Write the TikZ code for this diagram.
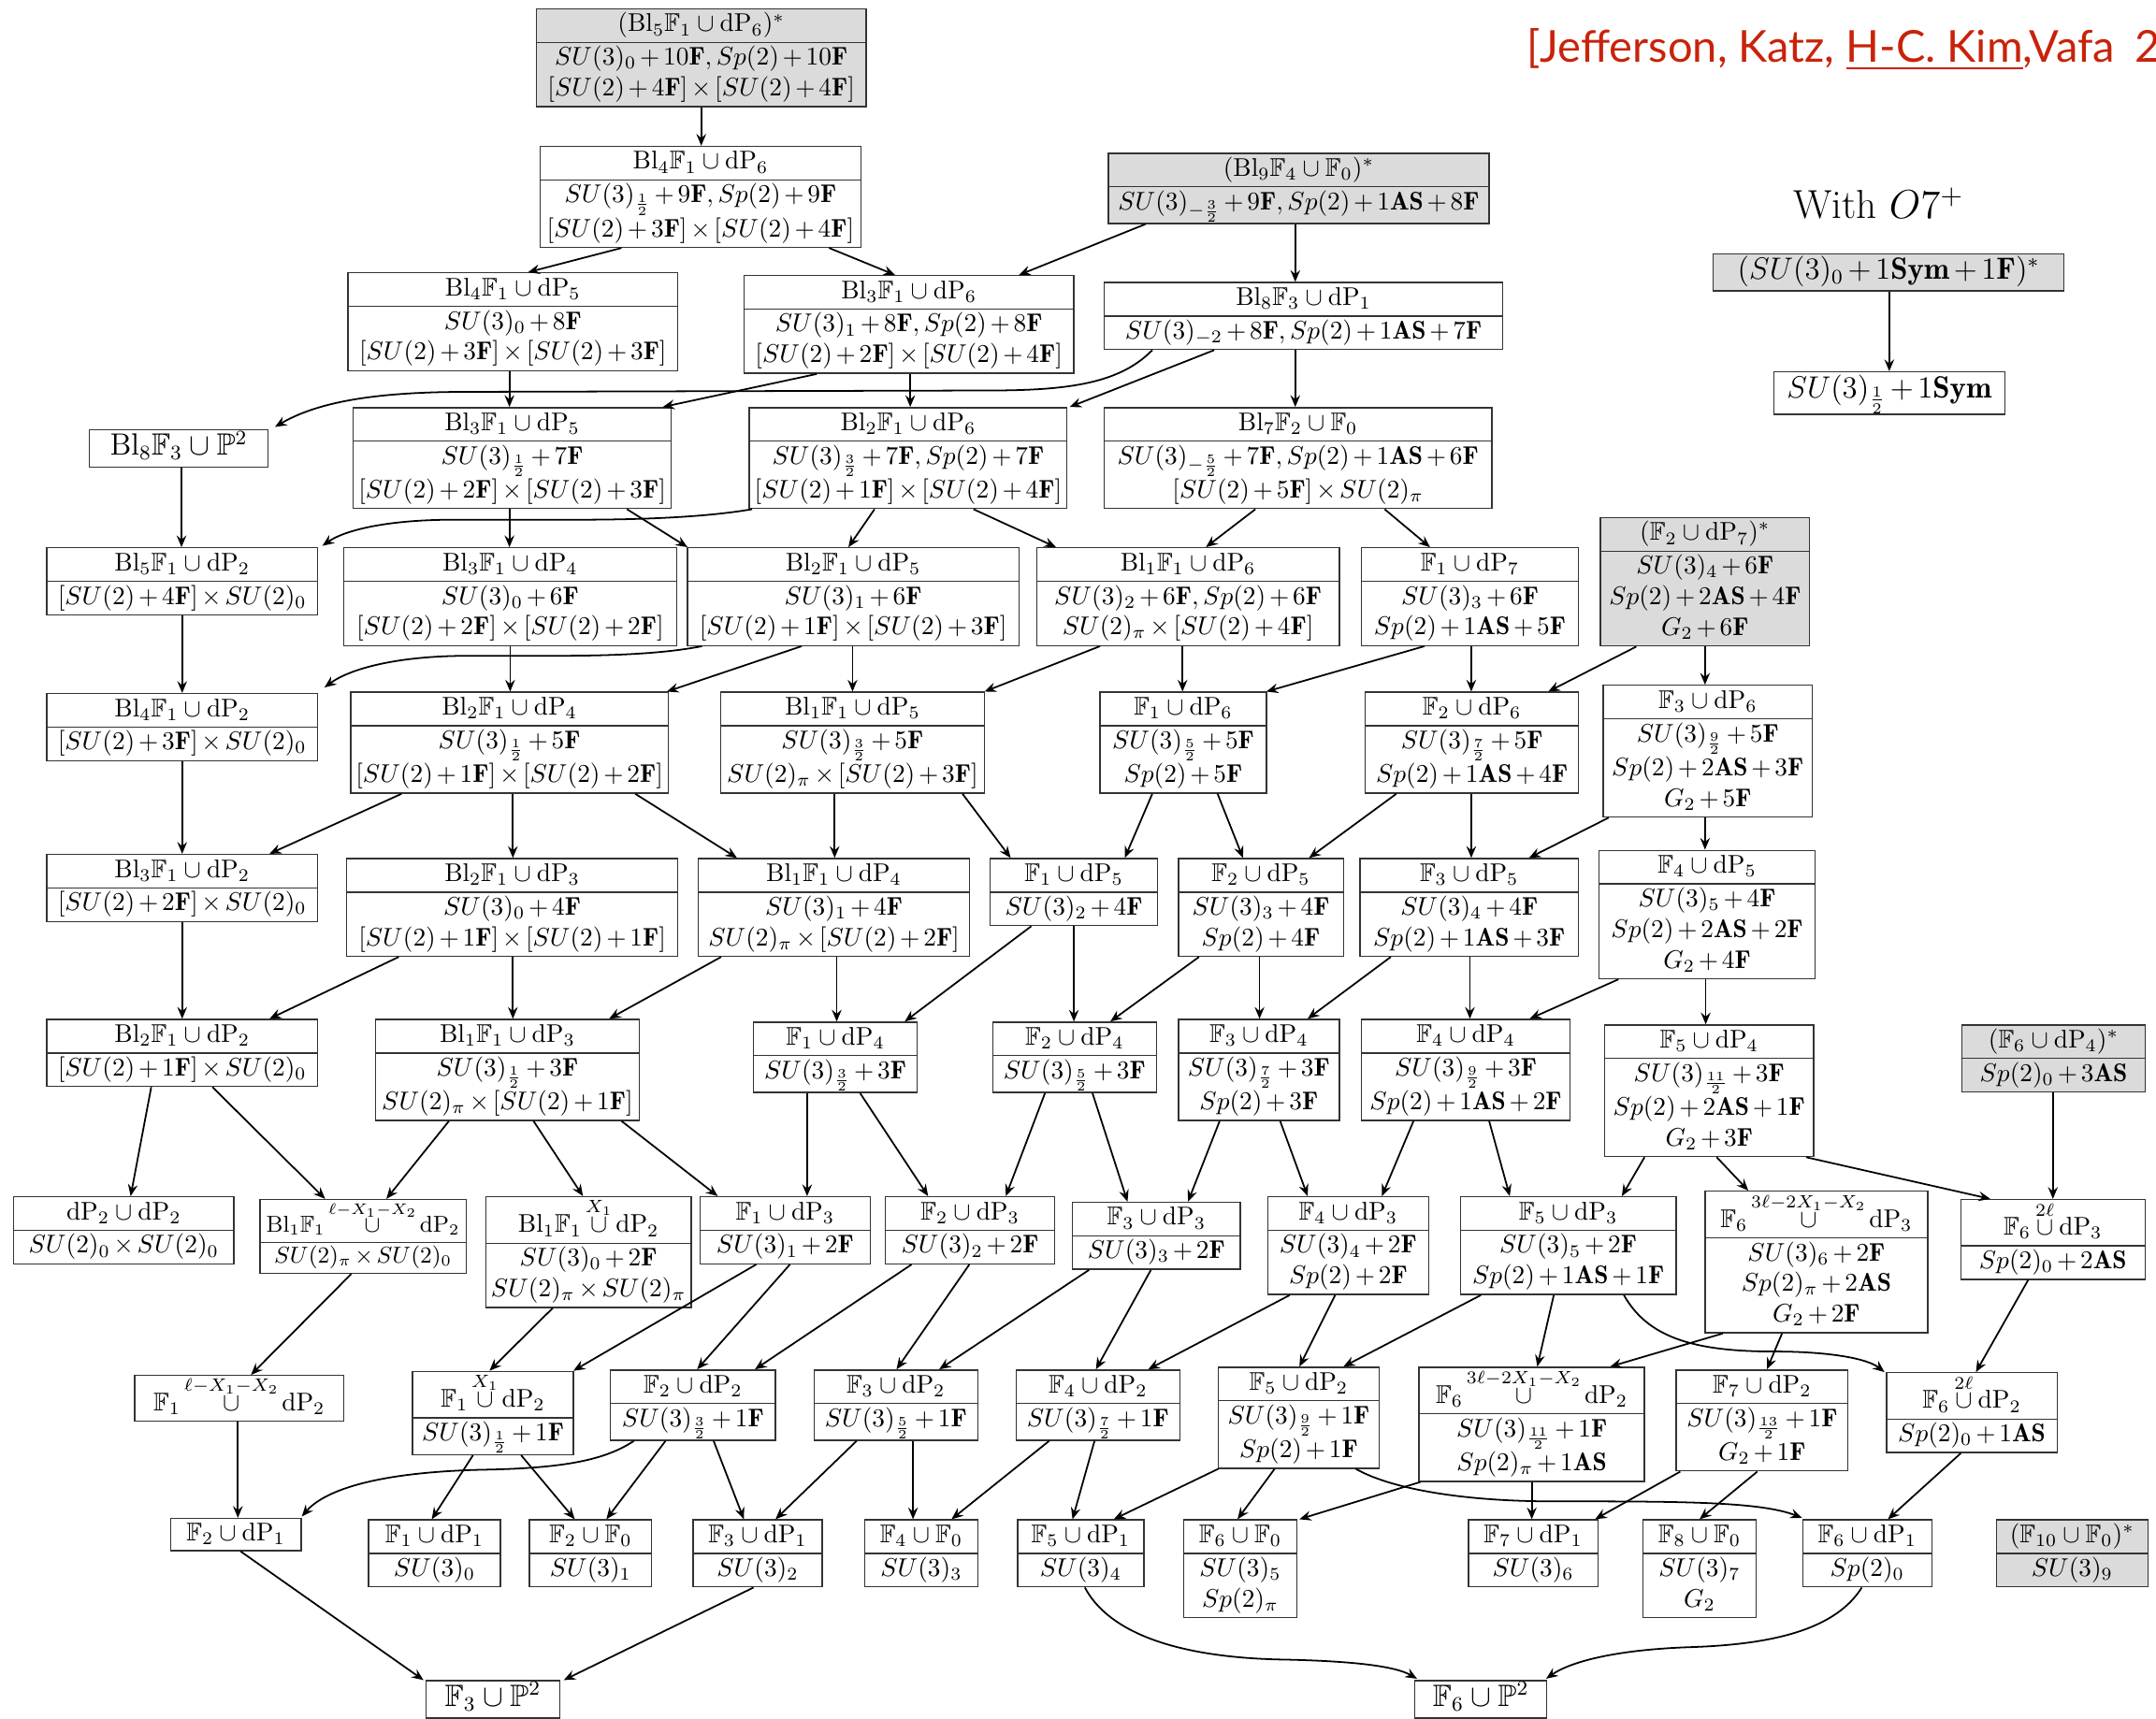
\RequirePackage{fix-cm}
\documentclass[tikz,border=0pt]{standalone}
\usepackage{amsmath,amssymb}
\usepackage{fontspec}
\newfontfamily\citefont{Lato}
\usetikzlibrary{shapes.multipart,arrows.meta,calc}
\definecolor{citered}{RGB}{200,35,10}
\newcommand{\ml}[1]{\begin{tabular}{@{}c@{}}#1\end{tabular}}
\newcommand{\Fb}{\mathbb{F}}
\newcommand{\bF}{\mathbf{F}}
\newcommand{\AS}{\mathbf{AS}}
\newcommand{\dP}{\mathrm{dP}}
\newcommand{\Bl}{\mathrm{Bl}}
\newcommand{\Pb}{\mathbb{P}}
\newcommand{\cupp}{\mathbin{\mkern1.5mu\cup\mkern1.5mu}}
\newcommand{\edg}[4]{\draw[arr] ($(#1.south)+(#2,0)$) -- ($(#3.north)+(#4,0)$);}
\AtBeginDocument{\medmuskip=2.5mu plus 1mu minus 2.5mu}
\tikzset{
 bx/.style={draw=black!80, line width=0.5pt, rectangle split, rectangle split parts=2, inner xsep=2pt, inner ysep=0.3pt, anchor=north, fill=white, font=\normalsize},
 gbx/.style={bx, fill=black!14},
 sbx/.style={draw=black!80, line width=0.5pt, inner xsep=2pt, inner ysep=0.3pt, anchor=north, fill=white},
 bw/.style={minimum width=#1*0.5376pt},
 arr/.style={-{Stealth[length=4.6pt,width=3.8pt,inset=1.6pt]}, line width=0.65pt},
}
\begin{document}
\begin{tikzpicture}[x=0.5376pt, y=-0.5376pt]
\useasboundingbox (0,0) rectangle (1568,1250);
\clip (0,0) rectangle (1568,1250);

\node[anchor=base west, inner sep=0, text=citered, font=\citefont\fontsize{17.2}{20}\selectfont] (cite) at (1110,45) {[Jefferson, Katz, \underline{H-C. Kim},Vafa\hspace{0.45em}2018]};
\node[anchor=base west, inner sep=0, font=\fontsize{15.8}{19}\selectfont] (o7) at (1304,159) {With $O7^+$};

% row 0-1
\node[gbx,bw=240] (A) at (510,6) {\ml{$(\Bl_5\Fb_1\cupp\dP_6)^*$}\nodepart{two}\ml{$SU(3)_0+10\bF, Sp(2)+10\bF$\\$[SU(2)+4\bF]\times[SU(2)+4\bF]$}};
\node[bx,bw=233] (B) at (509.5,106) {\ml{$\Bl_4\Fb_1\cupp\dP_6$}\nodepart{two}\ml{$SU(3)_{\frac12}+9\bF, Sp(2)+9\bF$\\$[SU(2)+3\bF]\times[SU(2)+4\bF]$}};
\node[gbx,bw=277] (C) at (944.5,111) {\ml{$(\Bl_9\Fb_4\cupp\Fb_0)^*$}\nodepart{two}\ml{$SU(3)_{-\frac32}+9\bF, Sp(2)+1\AS+8\bF$}};
\node[sbx,bw=255,fill=black!14,font=\large] (O1) at (1373.5,184) {\ml{$(SU(3)_0+1\mathbf{Sym}+1\bF)^*$}};
\node[sbx,bw=168,font=\large] (O2) at (1374,270) {\ml{$SU(3)_{\frac12}+1\mathbf{Sym}$}};

% row 2
\node[bx,bw=240] (D) at (373,198) {\ml{$\Bl_4\Fb_1\cupp\dP_5$}\nodepart{two}\ml{$SU(3)_0+8\bF$\\$[SU(2)+3\bF]\times[SU(2)+3\bF]$}};
\node[bx,bw=240] (E) at (661,200) {\ml{$\Bl_3\Fb_1\cupp\dP_6$}\nodepart{two}\ml{$SU(3)_1+8\bF, Sp(2)+8\bF$\\$[SU(2)+2\bF]\times[SU(2)+4\bF]$}};
\node[bx,bw=290] (F) at (948,205) {\ml{$\Bl_8\Fb_3\cupp\dP_1$}\nodepart{two}\ml{$SU(3)_{-2}+8\bF, Sp(2)+1\AS+7\bF$}};

% row 3
\node[sbx,bw=130,font=\large] (G) at (130,312) {\ml{$\Bl_8\Fb_3\cupp\Pb^2$}};
\node[bx,bw=231] (H) at (372.5,296) {\ml{$\Bl_3\Fb_1\cupp\dP_5$}\nodepart{two}\ml{$SU(3)_{\frac12}+7\bF$\\$[SU(2)+2\bF]\times[SU(2)+3\bF]$}};
\node[bx,bw=231] (I) at (660.5,296) {\ml{$\Bl_2\Fb_1\cupp\dP_6$}\nodepart{two}\ml{$SU(3)_{\frac32}+7\bF, Sp(2)+7\bF$\\$[SU(2)+1\bF]\times[SU(2)+4\bF]$}};
\node[bx,bw=282] (J) at (944,296) {\ml{$\Bl_7\Fb_2\cupp\Fb_0$}\nodepart{two}\ml{$SU(3)_{-\frac52}+7\bF, Sp(2)+1\AS+6\bF$\\$[SU(2)+5\bF]\times SU(2)_\pi$}};

% row 4
\node[bx,bw=197] (K) at (132.5,398) {\ml{$\Bl_5\Fb_1\cupp\dP_2$}\nodepart{two}\ml{$[SU(2)+4\bF]\times SU(2)_0$}};
\node[bx,bw=242] (L) at (371,398) {\ml{$\Bl_3\Fb_1\cupp\dP_4$}\nodepart{two}\ml{$SU(3)_0+6\bF$\\$[SU(2)+2\bF]\times[SU(2)+2\bF]$}};
\node[bx,bw=241] (M) at (620.5,398) {\ml{$\Bl_2\Fb_1\cupp\dP_5$}\nodepart{two}\ml{$SU(3)_1+6\bF$\\$[SU(2)+1\bF]\times[SU(2)+3\bF]$}};
\node[bx,bw=220] (N) at (864,398) {\ml{$\Bl_1\Fb_1\cupp\dP_6$}\nodepart{two}\ml{$SU(3)_2+6\bF, Sp(2)+6\bF$\\$SU(2)_\pi\times[SU(2)+4\bF]$}};
\node[bx,bw=158] (O) at (1069,398) {\ml{$\Fb_1\cupp\dP_7$}\nodepart{two}\ml{$SU(3)_3+6\bF$\\$Sp(2)+1\AS+5\bF$}};
\node[gbx,bw=152] (P) at (1240,376) {\ml{$(\Fb_2\cupp\dP_7)^*$}\nodepart{two}\ml{$SU(3)_4+6\bF$\\$Sp(2)+2\AS+4\bF$\\$G_2+6\bF$}};

% row 5
\node[bx,bw=197] (Q) at (132.5,504) {\ml{$\Bl_4\Fb_1\cupp\dP_2$}\nodepart{two}\ml{$[SU(2)+3\bF]\times SU(2)_0$}};
\node[bx,bw=231] (R) at (370.5,503) {\ml{$\Bl_2\Fb_1\cupp\dP_4$}\nodepart{two}\ml{$SU(3)_{\frac12}+5\bF$\\$[SU(2)+1\bF]\times[SU(2)+2\bF]$}};
\node[bx,bw=192] (S) at (620,503) {\ml{$\Bl_1\Fb_1\cupp\dP_5$}\nodepart{two}\ml{$SU(3)_{\frac32}+5\bF$\\$SU(2)_\pi\times[SU(2)+3\bF]$}};
\node[bx,bw=121] (T) at (860.5,503) {\ml{$\Fb_1\cupp\dP_6$}\nodepart{two}\ml{$SU(3)_{\frac52}+5\bF$\\$Sp(2)+5\bF$}};
\node[bx,bw=155] (U) at (1070.5,503) {\ml{$\Fb_2\cupp\dP_6$}\nodepart{two}\ml{$SU(3)_{\frac72}+5\bF$\\$Sp(2)+1\AS+4\bF$}};
\node[bx,bw=152] (V) at (1242,498) {\ml{$\Fb_3\cupp\dP_6$}\nodepart{two}\ml{$SU(3)_{\frac92}+5\bF$\\$Sp(2)+2\AS+3\bF$\\$G_2+5\bF$}};

% row 6
\node[bx,bw=197] (W) at (132.5,621) {\ml{$\Bl_3\Fb_1\cupp\dP_2$}\nodepart{two}\ml{$[SU(2)+2\bF]\times SU(2)_0$}};
\node[bx,bw=241] (X) at (372.5,624) {\ml{$\Bl_2\Fb_1\cupp\dP_3$}\nodepart{two}\ml{$SU(3)_0+4\bF$\\$[SU(2)+1\bF]\times[SU(2)+1\bF]$}};
\node[bx,bw=197] (Y) at (606.5,624) {\ml{$\Bl_1\Fb_1\cupp\dP_4$}\nodepart{two}\ml{$SU(3)_1+4\bF$\\$SU(2)_\pi\times[SU(2)+2\bF]$}};
\node[bx,bw=122] (Z) at (781,624) {\ml{$\Fb_1\cupp\dP_5$}\nodepart{two}\ml{$SU(3)_2+4\bF$}};
\node[bx,bw=120] (AA) at (917,624) {\ml{$\Fb_2\cupp\dP_5$}\nodepart{two}\ml{$SU(3)_3+4\bF$\\$Sp(2)+4\bF$}};
\node[bx,bw=159] (AB) at (1068.5,624) {\ml{$\Fb_3\cupp\dP_5$}\nodepart{two}\ml{$SU(3)_4+4\bF$\\$Sp(2)+1\AS+3\bF$}};
\node[bx,bw=157] (AC) at (1241.5,618) {\ml{$\Fb_4\cupp\dP_5$}\nodepart{two}\ml{$SU(3)_5+4\bF$\\$Sp(2)+2\AS+2\bF$\\$G_2+4\bF$}};

% row 7
\node[bx,bw=197] (AD) at (132.5,741) {\ml{$\Bl_2\Fb_1\cupp\dP_2$}\nodepart{two}\ml{$[SU(2)+1\bF]\times SU(2)_0$}};
\node[bx,bw=192] (AE) at (369,741) {\ml{$\Bl_1\Fb_1\cupp\dP_3$}\nodepart{two}\ml{$SU(3)_{\frac12}+3\bF$\\$SU(2)_\pi\times[SU(2)+1\bF]$}};
\node[bx,bw=119] (AF) at (607.5,743) {\ml{$\Fb_1\cupp\dP_4$}\nodepart{two}\ml{$SU(3)_{\frac32}+3\bF$}};
\node[bx,bw=119] (AG) at (781.5,743) {\ml{$\Fb_2\cupp\dP_4$}\nodepart{two}\ml{$SU(3)_{\frac52}+3\bF$}};
\node[bx,bw=117] (AH) at (915.5,741) {\ml{$\Fb_3\cupp\dP_4$}\nodepart{two}\ml{$SU(3)_{\frac72}+3\bF$\\$Sp(2)+3\bF$}};
\node[bx,bw=152] (AI) at (1066,741) {\ml{$\Fb_4\cupp\dP_4$}\nodepart{two}\ml{$SU(3)_{\frac92}+3\bF$\\$Sp(2)+1\AS+2\bF$}};
\node[bx,bw=152] (AJ) at (1243,745) {\ml{$\Fb_5\cupp\dP_4$}\nodepart{two}\ml{$SU(3)_{\frac{11}2}+3\bF$\\$Sp(2)+2\AS+1\bF$\\$G_2+3\bF$}};
\node[gbx,bw=133] (AK) at (1493.5,745) {\ml{$(\Fb_6\cupp\dP_4)^*$}\nodepart{two}\ml{$Sp(2)_0+3\AS$}};

% row 8
\node[bx,bw=160] (AL) at (90,870) {\ml{$\dP_2\cupp\dP_2$}\nodepart{two}\ml{$SU(2)_0\times SU(2)_0$}};
\node[bx,bw=150,font=\small] (AM) at (264,872) {\ml{$\Bl_1\Fb_1\overset{\ell-X_1-X_2}{\cupp}\dP_2$}\nodepart{two}\ml{$SU(2)_\pi\times SU(2)_0$}};
\node[bx,bw=140] (AN) at (428,870) {\ml{$\Bl_1\Fb_1\overset{X_1}{\cupp}\dP_2$}\nodepart{two}\ml{$SU(3)_0+2\bF$\\$SU(2)_\pi\times SU(2)_\pi$}};
\node[bx,bw=124] (AO) at (571,870) {\ml{$\Fb_1\cupp\dP_3$}\nodepart{two}\ml{$SU(3)_1+2\bF$}};
\node[bx,bw=123] (AP) at (705.5,870) {\ml{$\Fb_2\cupp\dP_3$}\nodepart{two}\ml{$SU(3)_2+2\bF$}};
\node[bx,bw=122] (AQ) at (841,874) {\ml{$\Fb_3\cupp\dP_3$}\nodepart{two}\ml{$SU(3)_3+2\bF$}};
\node[bx,bw=117] (AR) at (980.5,870) {\ml{$\Fb_4\cupp\dP_3$}\nodepart{two}\ml{$SU(3)_4+2\bF$\\$Sp(2)+2\bF$}};
\node[bx,bw=157] (AS) at (1140.5,870) {\ml{$\Fb_5\cupp\dP_3$}\nodepart{two}\ml{$SU(3)_5+2\bF$\\$Sp(2)+1\AS+1\bF$}};
\node[bx,bw=162] (AT) at (1321,866) {\ml{$\Fb_6\overset{3\ell-2X_1-X_2}{\cupp}\dP_3$}\nodepart{two}\ml{$SU(3)_6+2\bF$\\$Sp(2)_\pi+2\AS$\\$G_2+2\bF$}};
\node[bx,bw=134] (AU) at (1493,872) {\ml{$\Fb_6\overset{2\ell}{\cupp}\dP_3$}\nodepart{two}\ml{$Sp(2)_0+2\AS$}};

% row 9
\node[sbx,bw=152] (AV) at (174,1000) {\ml{$\Fb_1\overset{\ell-X_1-X_2}{\cupp}\dP_2$}};
\node[bx,bw=117] (AW) at (358.5,997) {\ml{$\Fb_1\overset{X_1}{\cupp}\dP_2$}\nodepart{two}\ml{$SU(3)_{\frac12}+1\bF$}};
\node[bx,bw=120] (AX) at (504,996) {\ml{$\Fb_2\cupp\dP_2$}\nodepart{two}\ml{$SU(3)_{\frac32}+1\bF$}};
\node[bx,bw=119] (AY) at (651.5,996) {\ml{$\Fb_3\cupp\dP_2$}\nodepart{two}\ml{$SU(3)_{\frac52}+1\bF$}};
\node[bx,bw=119] (AZ) at (798.5,996) {\ml{$\Fb_4\cupp\dP_2$}\nodepart{two}\ml{$SU(3)_{\frac72}+1\bF$}};
\node[bx,bw=117] (BA) at (944.5,994) {\ml{$\Fb_5\cupp\dP_2$}\nodepart{two}\ml{$SU(3)_{\frac92}+1\bF$\\$Sp(2)+1\bF$}};
\node[bx,bw=164] (BB) at (1114,994) {\ml{$\Fb_6\overset{3\ell-2X_1-X_2}{\cupp}\dP_2$}\nodepart{two}\ml{$SU(3)_{\frac{11}2}+1\bF$\\$Sp(2)_\pi+1\AS$}};
\node[bx,bw=125] (BC) at (1281.5,996) {\ml{$\Fb_7\cupp\dP_2$}\nodepart{two}\ml{$SU(3)_{\frac{13}2}+1\bF$\\$G_2+1\bF$}};
\node[bx,bw=124] (BD) at (1434,998) {\ml{$\Fb_6\overset{2\ell}{\cupp}\dP_2$}\nodepart{two}\ml{$Sp(2)_0+1\AS$}};

% row 10
\node[sbx,bw=95] (BE) at (171.5,1104) {\ml{$\Fb_2\cupp\dP_1$}};
\node[bx,bw=96] (BF) at (316,1105) {\ml{$\Fb_1\cupp\dP_1$}\nodepart{two}\ml{$SU(3)_0$}};
\node[bx,bw=89] (BG) at (429.5,1105) {\ml{$\Fb_2\cupp\Fb_0$}\nodepart{two}\ml{$SU(3)_1$}};
\node[bx,bw=94] (BH) at (551,1105) {\ml{$\Fb_3\cupp\dP_1$}\nodepart{two}\ml{$SU(3)_2$}};
\node[bx,bw=82] (BI) at (670,1105) {\ml{$\Fb_4\cupp\Fb_0$}\nodepart{two}\ml{$SU(3)_3$}};
\node[bx,bw=92] (BJ) at (786,1105) {\ml{$\Fb_5\cupp\dP_1$}\nodepart{two}\ml{$SU(3)_4$}};
\node[bx,bw=82] (BK) at (902,1105) {\ml{$\Fb_6\cupp\Fb_0$}\nodepart{two}\ml{$SU(3)_5$\\$Sp(2)_\pi$}};
\node[bx,bw=94] (BL) at (1115,1105) {\ml{$\Fb_7\cupp\dP_1$}\nodepart{two}\ml{$SU(3)_6$}};
\node[bx,bw=82] (BM) at (1236,1105) {\ml{$\Fb_8\cupp\Fb_0$}\nodepart{two}\ml{$SU(3)_7$\\$G_2$}};
\node[bx,bw=94] (BN) at (1358,1105) {\ml{$\Fb_6\cupp\dP_1$}\nodepart{two}\ml{$Sp(2)_0$}};
\node[gbx,bw=110] (BO) at (1507,1105) {\ml{$(\Fb_{10}\cupp\Fb_0)^*$}\nodepart{two}\ml{$SU(3)_9$}};

% row 11
\node[sbx,bw=97,font=\large] (BP) at (358.5,1222) {\ml{$\Fb_3\cupp\Pb^2$}};
\node[sbx,bw=96,font=\large] (BQ) at (1077,1222) {\ml{$\Fb_6\cupp\Pb^2$}};

% straight connectors
\edg{A}{0}{B}{0.5}
\edg{B}{-57.5}{D}{11}
\edg{B}{93.5}{E}{-10}
\edg{C}{-111.5}{E}{80}
\edg{C}{-2.5}{F}{-6}
\edg{D}{-2.5}{H}{-2}
\edg{E}{-67}{H}{109.5}
\edg{E}{1}{I}{1.5}
\edg{F}{-65}{I}{117.5}
\edg{F}{-6}{J}{-2}
\edg{H}{-2}{L}{-0.5}
\edg{H}{83.5}{M}{-120.5}
\edg{I}{-24.5}{M}{-3.5}
\edg{I}{47.5}{N}{-96}
\edg{J}{-31}{N}{13}
\edg{J}{63}{O}{-29}
\edg{G}{2}{K}{-0.5}
\edg{K}{0}{Q}{0}
\edg{L}{0}{R}{0.5}
\edg{M}{-37.5}{R}{114.5}
\edg{M}{-0.5}{S}{0}
\edg{N}{-64}{S}{96}
\edg{N}{-4}{T}{-0.5}
\edg{O}{-33}{T}{60.5}
\edg{O}{1}{U}{-0.5}
\edg{P}{-50}{U}{55.5}
\edg{P}{0}{V}{-2}
\edg{Q}{0}{W}{0}
\edg{R}{-78.5}{W}{63.5}
\edg{R}{2.5}{X}{0.5}
\edg{R}{91.5}{Y}{-70.5}
\edg{S}{-13}{Y}{0.5}
\edg{S}{80}{Z}{-46}
\edg{T}{-22.5}{Z}{37}
\edg{T}{25}{AA}{-13}
\edg{U}{-55}{AA}{35}
\edg{U}{-0.5}{AB}{1.5}
\edg{V}{-72}{AB}{43.5}
\edg{V}{-2}{AC}{-1.5}
\edg{W}{0}{AD}{0}
\edg{X}{-82.5}{AD}{63.5}
\edg{X}{0.5}{AE}{4}
\edg{Y}{-82}{AE}{74}
\edg{Y}{2}{AF}{1}
\edg{Z}{-31}{AF}{50.5}
\edg{Z}{0}{AG}{-0.5}
\edg{AA}{-45}{AG}{26}
\edg{AA}{-1}{AH}{0.5}
\edg{AB}{-57}{AH}{35.5}
\edg{AB}{0.5}{AI}{3}
\edg{AC}{-64.5}{AI}{46.5}
\edg{AC}{-1}{AJ}{-2.5}
\edg{AD}{-22.5}{AL}{5}
\edg{AD}{22}{AM}{-27.5}
\edg{AE}{-42.5}{AM}{17}
\edg{AE}{19}{AN}{-4}
\edg{AE}{83}{AO}{-49}
\edg{AF}{-20.5}{AO}{16}
\edg{AF}{18}{AP}{-30.5}
\edg{AG}{-21.5}{AP}{26}
\edg{AG}{13}{AQ}{-21}
\edg{AH}{-28.5}{AQ}{23}
\edg{AH}{15.5}{AR}{-29.5}
\edg{AI}{-38}{AR}{24.5}
\edg{AI}{17}{AS}{-42.5}
\edg{AJ}{-47}{AS}{39}
\edg{AJ}{5.5}{AT}{-49.5}
\edg{AJ}{70.5}{AU}{-45.5}
\edg{AK}{-0.5}{AU}{0}
\edg{AM}{-8.5}{AV}{8.5}
\edg{AN}{-26}{AW}{-2.5}
\edg{AO}{-21}{AW}{58.5}
\edg{AO}{3.5}{AX}{3}
\edg{AP}{-42.5}{AX}{45}
\edg{AP}{-0.5}{AY}{0.5}
\edg{AQ}{-49}{AY}{31.5}
\edg{AQ}{-4}{AZ}{-1.5}
\edg{AR}{-42.5}{AZ}{36.5}
\edg{AR}{-9.5}{BA}{0.5}
\edg{AS}{-63.5}{BA}{32.5}
\edg{AS}{-10.5}{BB}{4}
\edg{AT}{-68}{BB}{57}
\edg{AT}{-25}{BC}{3.5}
\edg{AU}{-18}{BD}{3}
\edg{AV}{-1}{BE}{1.5}
\edg{AW}{-14.5}{BF}{-2}
\edg{AW}{20.5}{BG}{-11.5}
\edg{AX}{-20}{BG}{11.5}
\edg{AX}{15}{BH}{-10}
\edg{AY}{-28.5}{BH}{13}
\edg{AY}{12.5}{BI}{-6}
\edg{AZ}{-35.5}{BI}{22}
\edg{AZ}{-2.5}{BJ}{-6}
\edg{BA}{-58.5}{BJ}{24}
\edg{BA}{-17.5}{BK}{-2}
\edg{BB}{-81}{BK}{43}
\edg{BB}{0}{BL}{-1}
\edg{BC}{-59.5}{BL}{45}
\edg{BC}{-3.5}{BM}{0}
\edg{BD}{-8}{BN}{15}
\edg{BE}{3.5}{BP}{-50.5}
\edg{BH}{-3}{BP}{51.5}
\edg{O1}{0.5}{O2}{0}

% curved connectors
\draw[arr] ($(F.south)+(-110,0)$) .. controls (815,278) and (780,284) .. (720,284) -- (340,285) .. controls (270,285) and (230,293) .. ($(G.north east)+(4.5,-1.5)$);
\draw[arr] ($(I.south)+(-113.5,0)$) .. controls (520,375) and (480,378) .. (420,378) -- (330,378) .. controls (280,378) and (250,386) .. ($(K.north east)+(3,-1)$);
\draw[arr] ($(M.south)+(-110,0)$) .. controls (480,476) and (440,477) .. (400,477) -- (340,477) .. controls (290,477) and (255,486) .. ($(Q.north east)+(4.5,-4)$);
\draw[arr] ($(AS.south)+(40.5,0)$) .. controls (1198,972) and (1230,983) .. (1290,983) .. controls (1330,983) and (1358,988) .. ($(BD.north west)+(-1,0)$);
\draw[arr] ($(BA.south)+(41.5,0)$) .. controls (1010,1082) and (1060,1092) .. (1130,1092) .. controls (1220,1092) and (1280,1092) .. ($(BN.north west)+(0,-1)$);
\draw[arr] ($(AX.south)+(-43,0)$) .. controls (440,1062) and (410,1068) .. (350,1069) .. controls (270,1071) and (235,1085) .. ($(BE.north east)+(0,-1)$);
\draw[arr] ($(BJ.south)+(3,0)$) .. controls (805,1185) and (850,1205) .. (930,1207) .. controls (985,1208) and (1015,1212) .. ($(BQ.north west)+(2,-1)$);
\draw[arr] ($(BN.south)+(-4,0)$) .. controls (1335,1185) and (1290,1196) .. (1230,1198) .. controls (1170,1200) and (1140,1210) .. ($(BQ.north east)+(-1,-1)$);
\end{tikzpicture}
\end{document}
